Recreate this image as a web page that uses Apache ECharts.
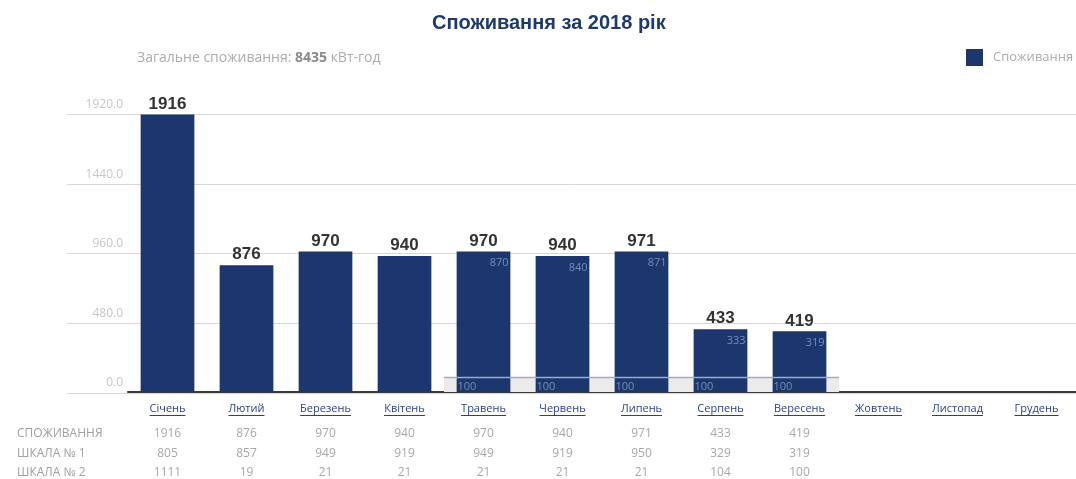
<!DOCTYPE html>
<html>
<head>
<meta charset="utf-8">
<script src="https://cdn.jsdelivr.net/npm/echarts@6/dist/echarts.min.js"></script>
<style>
  html, body { margin: 0; padding: 0; background: #ffffff; }
  #chart { width: 1076px; height: 479px; }
</style>
</head>
<body>
<div id="chart"></div>
<script>
// Monthly electricity consumption, 2018
const months = ['Січень', 'Лютий', 'Березень', 'Квітень', 'Травень', 'Червень',
                'Липень', 'Серпень', 'Вересень', 'Жовтень', 'Листопад', 'Грудень'];
const consumption = [1916, 876, 970, 940, 970, 940, 971, 433, 419];
const scale1 = [805, 857, 949, 919, 949, 919, 950, 329, 319];
const scale2 = [1111, 19, 21, 21, 21, 21, 21, 104, 100];
const innerValues = [null, null, null, null, 870, 840, 871, 333, 319];
const baseLevel = [null, null, null, null, 100, 100, 100, 100, 100];
const rowNames = ['СПОЖИВАННЯ', 'ШКАЛА № 1', 'ШКАЛА № 2'];
const totalConsumption = 8435;
const yMin = 0, yMax = 1920, yStep = 480;

const NAVY = '#1c366e';
const LINK = '#2b3f8c';
const SMALL_FONT = '"Open Sans", "DejaVu Sans", sans-serif';
const BOLD_FONT = '"Liberation Sans", Arial, sans-serif';

// widths of month names, used to size the underline under each link-style label
const measureCtx = document.createElement('canvas').getContext('2d');
measureCtx.font = '11px ' + SMALL_FONT;
const monthRich = { m: { color: LINK, fontSize: 11, fontFamily: SMALL_FONT, lineHeight: 13 } };
months.forEach((m, i) => {
  monthRich['u' + i] = {
    width: Math.round(measureCtx.measureText(m).width),
    height: 1, lineHeight: 1, backgroundColor: LINK, fontSize: 1
  };
});

const chart = echarts.init(document.getElementById('chart'), null, { renderer: 'canvas' });

function rowAxis(values, offset) {
  return {
    type: 'category', gridIndex: 1, position: 'bottom', offset: offset,
    data: months.map((_, i) => (values[i] == null ? '' : String(values[i]))),
    axisLine: { show: false }, axisTick: { show: false }, splitLine: { show: false },
    axisLabel: { color: '#a8a8a8', fontSize: 12, fontFamily: SMALL_FONT, margin: 0, interval: 0 }
  };
}

const option = {
  animation: false,
  backgroundColor: '#ffffff',
  title: [
    {
      text: 'Споживання за 2018 рік', left: 427, top: 8,
      textStyle: { color: '#1e3a6d', fontSize: 20, fontWeight: 'bold', fontFamily: BOLD_FONT }
    },
    {
      text: '{a|Загальне споживання: }{b|' + totalConsumption + '}{a| кВт-год}',
      left: 132, top: 46,
      textStyle: {
        rich: {
          a: { color: '#acacac', fontSize: 14, fontWeight: 'normal', fontFamily: SMALL_FONT },
          b: { color: '#8a8a8a', fontSize: 14, fontWeight: 'bold', fontFamily: SMALL_FONT }
        }
      }
    }
  ],
  legend: {
    data: ['Споживання'], left: 961, top: 44,
    itemWidth: 17, itemHeight: 17, icon: 'rect',
    textStyle: { color: '#acacac', fontSize: 13, fontFamily: SMALL_FONT, padding: [0, 0, 0, 5] }
  },
  grid: [
    { left: 67, right: -5, top: 114, bottom: 86 },
    { left: 128, right: -5, top: 114, bottom: 86 }
  ],
  xAxis: [
    { type: 'value', gridIndex: 0, show: false, min: 0, max: 1 },
    {
      type: 'category', gridIndex: 1, data: months,
      axisLine: { show: true, lineStyle: { color: '#3c3c3c', width: 2 } },
      axisTick: { show: false },
      axisLabel: {
        interval: 0, margin: 10,
        formatter: (v, i) => '{m|' + v + '}\n{u' + i + '| }',
        rich: monthRich
      }
    },
    rowAxis(consumption, 36),
    rowAxis(scale1, 56),
    rowAxis(scale2, 75)
  ],
  yAxis: [
    {
      type: 'value', gridIndex: 0, min: yMin, max: yMax, interval: yStep,
      axisLine: { show: false }, axisTick: { show: false }, axisLabel: { show: false },
      splitLine: { show: true, lineStyle: { color: '#d6d6d6', width: 1 } }
    },
    {
      type: 'value', gridIndex: 1, min: yMin, max: yMax, interval: yStep,
      axisLine: { show: false }, axisTick: { show: false }, splitLine: { show: false },
      axisLabel: {
        color: '#c6c6c6', fontSize: 12, fontFamily: SMALL_FONT, margin: 5,
        verticalAlign: 'bottom', padding: [0, 0, 3, 0],
        formatter: v => v.toFixed(1)
      }
    }
  ],
  graphic: rowNames.map((name, i) => ({
    type: 'text', left: 17, top: [428, 448, 467][i],
    style: { text: name, fill: '#a0a0a0', fontSize: 12, fontFamily: SMALL_FONT }
  })),
  series: [
    {
      // light band under the base level
      type: 'custom', xAxisIndex: 1, yAxisIndex: 1, z: 1, silent: true,
      data: baseLevel.map((v, i) => [i, v]).filter(d => d[1] != null),
      renderItem: (params, api) => {
        const i = api.value(0), v = api.value(1);
        const bottom = api.coord([i, 0]);
        const top = api.coord([i, v]);
        const w = api.size([1, 0])[0];
        return {
          type: 'rect',
          shape: { x: bottom[0] - w / 2, y: top[1], width: w, height: bottom[1] - top[1] },
          style: { fill: '#ebebeb' }
        };
      }
    },
    {
      name: 'Споживання', type: 'bar', xAxisIndex: 1, yAxisIndex: 1, z: 2,
      data: consumption, barWidth: '68%',
      itemStyle: { color: NAVY },
      label: {
        show: true, position: 'top', distance: 2,
        color: '#333333', fontSize: 17, fontWeight: 'bold', fontFamily: BOLD_FONT
      }
    },
    {
      // base level line drawn over the bars
      type: 'custom', xAxisIndex: 1, yAxisIndex: 1, z: 3, silent: true,
      data: baseLevel.map((v, i) => [i, v]).filter(d => d[1] != null),
      renderItem: (params, api) => {
        const i = api.value(0), v = api.value(1);
        const p = api.coord([i, v]);
        const w = api.size([1, 0])[0];
        return {
          type: 'line',
          shape: { x1: p[0] - w / 2, y1: p[1], x2: p[0] + w / 2, y2: p[1] },
          style: { stroke: '#9eabc6', lineWidth: 1.5 }
        };
      }
    },
    {
      type: 'scatter', xAxisIndex: 1, yAxisIndex: 1, z: 4, silent: true,
      symbolSize: 0, data: baseLevel,
      label: {
        show: true, position: [-26, 4], align: 'left', verticalAlign: 'top',
        color: '#8ea2c9', fontSize: 11, fontFamily: SMALL_FONT
      }
    },
    {
      type: 'scatter', xAxisIndex: 1, yAxisIndex: 1, z: 4, silent: true,
      symbolSize: 0, data: innerValues,
      label: {
        show: true, position: [25, -3], align: 'right', verticalAlign: 'middle',
        color: '#8ea2c9', fontSize: 11, fontFamily: SMALL_FONT
      }
    }
  ]
};

chart.setOption(option);
</script>
</body>
</html>
